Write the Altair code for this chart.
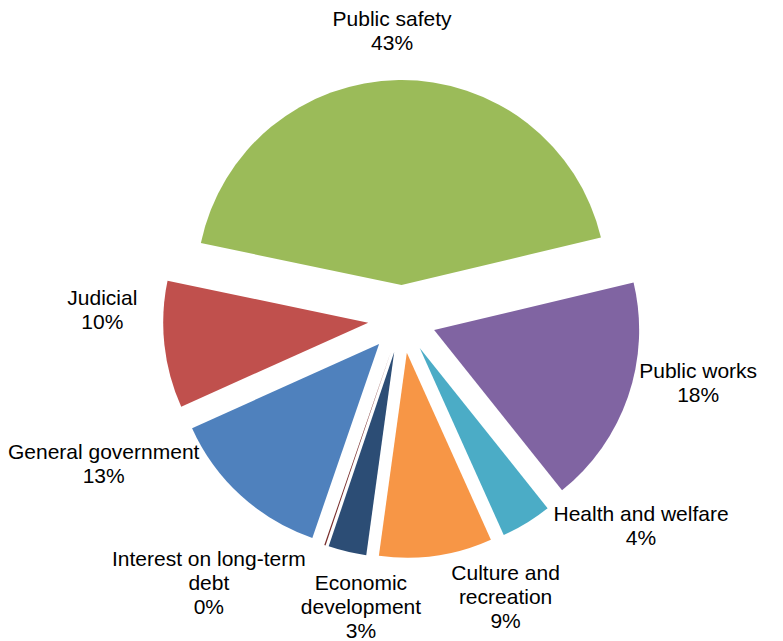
import math
import numpy as np
import pandas as pd
import altair as alt

# ---- data ----
categories = ["General government", "Judicial", "Public safety", "Public works",
              "Health and welfare", "Culture and recreation", "Economic development",
              "Interest on long-term debt"]
label_names = ["General government", "Judicial", "Public safety", "Public works",
               "Health and welfare", "Culture and\nrecreation", "Economic\ndevelopment",
               "Interest on long-term\ndebt"]
values = [13.0, 10.0, 43.0, 18.0, 4.0, 8.9, 3.0, 0.1]
colors = ["#4F81BD", "#C0504D", "#9BBB59", "#8064A2", "#4BACC6", "#F79646", "#2C4D75", "#772C2A"]

# ---- layout parameters ----
W, H = 783, 641
START_DEG = 199.0          # angle of the first slice (clockwise from 12 o'clock)
CX, CY = 402, 319          # pie centre
R = 205                    # pie radius
EXPLODE = 34               # explosion distance
FONT_SIZE = 21
LINE_H = 24
CHAR_W = 0.467 * FONT_SIZE  # rough average glyph width
LCX, LCY = 396, 315        # centre used for label placement
LABEL_BASE = 266           # distance of label boxes from centre
LABEL_K = 0.7              # share of the box half-extent added outward
SEP = 28.0                 # minimal angular separation of labels (deg)

total = float(sum(values))
cum = np.concatenate([[0.0], np.cumsum(values)])
t0, t1 = cum[:-1], cum[1:]
mid_deg = START_DEG + (t0 + t1) / 2.0 / total * 360.0


def spread(angles, sep, ref):
    """Push label angles apart (isotonic regression keeping a minimal separation)."""
    n = len(angles)
    order = sorted(range(n), key=lambda i: (angles[i] - ref) % 360)
    a = [(angles[i] - ref) % 360 for i in order]
    b = [a[k] - k * sep for k in range(n)]
    blocks = []
    for v in b:
        blocks.append([v, 1])
        while len(blocks) > 1 and blocks[-2][0] / blocks[-2][1] > blocks[-1][0] / blocks[-1][1]:
            s, c = blocks.pop()
            blocks[-1][0] += s
            blocks[-1][1] += c
    fitted = []
    for s, c in blocks:
        fitted += [s / c] * c
    out = [0.0] * n
    for k, i in enumerate(order):
        out[i] = fitted[k] + k * sep + ref
    return out


big = int(np.argmax(values))
ref = START_DEG + t0[big] / total * 360.0
label_deg = np.array(spread(list(mid_deg), SEP, ref))

pct = [f"{round(v / total * 100)}%" for v in values]
labels_txt = [f"{n}\n{p}" for n, p in zip(label_names, pct)]
lines = [t.split("\n") for t in labels_txt]
n_lines = np.array([len(l) for l in lines])
box_w = np.array([max(len(s) for s in l) * CHAR_W for l in lines])
box_h = n_lines * LINE_H

sx = np.sin(np.radians(label_deg))
sy = np.cos(np.radians(label_deg))
support = np.abs(sx) * box_w / 2 + np.abs(sy) * box_h / 2
dist = LABEL_BASE + LABEL_K * support

df = pd.DataFrame({
    "category": categories,
    "label": labels_txt,
    "t0": t0,
    "t1": t1,
    "ex": np.sin(np.radians(mid_deg)),
    "ey": np.cos(np.radians(mid_deg)),
    "lx": dist * sx,
    # first line sits on the anchor: lift the block so that it is centred
    "ly": dist * sy + (n_lines - 1) / 2.0 * LINE_H,
})

a0 = math.radians(START_DEG)
base = alt.Chart(df)

arcs = base.mark_arc(radius=R).encode(
    theta=alt.Theta("t0:Q", stack=None,
                    scale=alt.Scale(domain=[0, total], range=[a0, a0 + 2 * math.pi])),
    theta2=alt.Theta2("t1:Q"),
    x=alt.X("ex:Q", axis=None, scale=alt.Scale(domain=[-1, 1], range=[CX - EXPLODE, CX + EXPLODE])),
    y=alt.Y("ey:Q", axis=None, scale=alt.Scale(domain=[-1, 1], range=[CY + EXPLODE, CY - EXPLODE])),
    color=alt.Color("category:N", legend=None,
                    scale=alt.Scale(domain=categories, range=colors)),
)

labels = base.mark_text(font="Liberation Sans", fontSize=FONT_SIZE, lineHeight=LINE_H, lineBreak="\n",
                        align="center", baseline="middle", color="#000000").encode(
    x=alt.X("lx:Q", axis=None, scale=alt.Scale(domain=[-100, 100], range=[LCX - 100, LCX + 100])),
    y=alt.Y("ly:Q", axis=None, scale=alt.Scale(domain=[-100, 100], range=[LCY + 100, LCY - 100])),
    text="label:N",
)

chart = alt.layer(arcs, labels).resolve_scale(x="independent", y="independent").properties(
    width=W, height=H, padding=0,
    autosize=alt.AutoSizeParams(type="none"),
    background="white",
).configure_view(stroke=None)

chart.save("out.html", embed_options={"renderer": "svg", "actions": False})
